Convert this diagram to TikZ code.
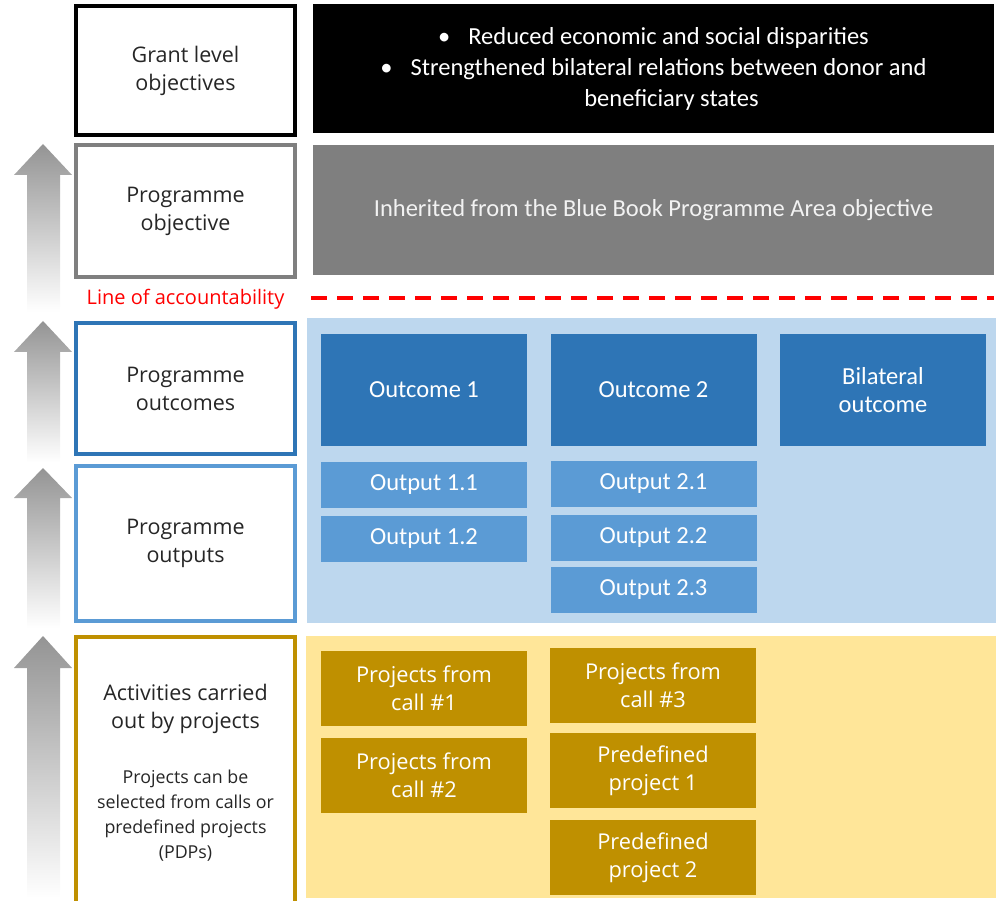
\documentclass[tikz,border=0pt]{standalone}
\usepackage{fontspec}
\setmainfont{Open Sans}
\newfontfamily\narrowfont{Carlito}
\definecolor{outcomeblue}{HTML}{2E75B6}
\definecolor{outputblue}{HTML}{5B9BD5}
\definecolor{panelblue}{HTML}{BDD7EE}
\definecolor{goldc}{HTML}{BF9000}
\definecolor{panelyellow}{HTML}{FFE699}
\definecolor{midgray}{HTML}{7F7F7F}
\definecolor{lightgraytext}{HTML}{F2F2F2}
\definecolor{labeltext}{HTML}{262626}
\begin{document}
\begin{tikzpicture}[x=1pt,y=-1pt,
  lbl/.style={draw, line width=4pt, fill=white, minimum width=219pt, inner sep=0pt, align=center, text=labeltext, font=\fontsize{21.5}{28}\selectfont},
  panel/.style={inner sep=0pt, align=center, minimum width=681pt},
  narrowtext/.style={font=\narrowfont\fontsize{24.5}{28}\selectfont},
  outcomebox/.style={fill=outcomeblue, text=white, minimum width=206pt, minimum height=112pt, inner sep=0pt, align=center, narrowtext},
  outputbox/.style={fill=outputblue, text=white, minimum width=206pt, minimum height=46pt, inner sep=0pt, align=center, narrowtext},
  projbox/.style={fill=goldc, text=white, minimum width=206pt, minimum height=75pt, inner sep=0pt, align=center, font=\fontsize{21.8}{28}\selectfont},
  uparrow/.style={top color=black!42, middle color=black!24, bottom color=white}
]
\useasboundingbox (0,0) rectangle (1002,901);
\clip (0,0) rectangle (1002,901);

% left arrows
\shade[uparrow] (43,144) -- (72,175) -- (60,175) -- (60,312) -- (27,312) -- (27,175) -- (14,175) -- cycle;
\shade[uparrow] (43,321) -- (72,352) -- (60,352) -- (60,462) -- (27,462) -- (27,352) -- (14,352) -- cycle;
\shade[uparrow] (43,468) -- (72,498) -- (60,498) -- (60,628) -- (27,628) -- (27,498) -- (14,498) -- cycle;
\shade[uparrow] (43,636) -- (72,668) -- (60,668) -- (60,898) -- (27,898) -- (27,668) -- (14,668) -- cycle;

% left label boxes
\node[lbl, draw=black, minimum height=129pt] (grant) at (185.5,70.5) {Grant level\\objectives};
\node[lbl, draw=midgray, minimum height=132pt] (progobj) at (185.5,211) {Programme\\objective};
\node[text=red, font=\fontsize{20}{22}\selectfont, inner sep=0pt] (accl) at (185.5,299) {Line of accountability};
\node[lbl, draw=outcomeblue, minimum height=131pt] (progout) at (185.5,388.5) {Programme\\outcomes};
\node[lbl, draw=outputblue, minimum height=155pt] (progoutp) at (185.5,543.5) {Programme\\outputs};
\node[lbl, draw=goldc, minimum height=300pt, anchor=north] (act) at (185.5,635) {};
\node[align=center, text=labeltext, inner sep=0pt, anchor=north, font=\fontsize{21.5}{28}\selectfont] (acttitle) at (185.5,684)
  {Activities carried\\out by projects};
\node[align=center, text=labeltext, inner sep=0pt, anchor=north, font=\fontsize{17.8}{25}\selectfont] (actnote) at (185.5,770)
  {Projects can be\\selected from calls or\\predefined projects\\(PDPs)};

% right panels
\node[panel, fill=black, text=white, minimum height=129pt, font=\narrowfont\fontsize{24.5}{31}\selectfont] (grantobj) at (653.5,68.5)
  {\textbullet\hspace{18pt}Reduced economic and social disparities\\
   \textbullet\hspace{18pt}Strengthened bilateral relations between donor and\\
   \hspace{36pt}beneficiary states};
\node[panel, fill=midgray, text=lightgraytext, minimum height=130pt, narrowtext] (inherit) at (653.5,210)
  {Inherited from the Blue Book Programme Area objective};
\coordinate (dashA) at (311,298);
\coordinate (dashB) at (994,298);
\draw[red, line width=4pt, dash pattern=on 16pt off 10pt] (dashA) -- (dashB);

\node[fill=panelblue, minimum width=689pt, minimum height=305pt, inner sep=0pt] (bluepanel) at (651.5,470.5) {};
\node[fill=panelyellow, minimum width=690pt, minimum height=262pt, inner sep=0pt] (yellowpanel) at (651,767) {};

% outcomes
\node[outcomebox] (oc1) at (424,390) {Outcome 1};
\node[outcomebox] (oc2) at (653.5,390) {Outcome 2};
\node[outcomebox] (ocb) at (883,390) {Bilateral\\outcome};

% outputs
\node[outputbox] (o11) at (424,484.5) {Output 1.1};
\node[outputbox] (o12) at (424,539) {Output 1.2};
\node[outputbox] (o21) at (653.5,483.5) {Output 2.1};
\node[outputbox] (o22) at (653.5,537.5) {Output 2.2};
\node[outputbox] (o23) at (653.5,590) {Output 2.3};

% projects
\node[projbox] (c1) at (424,688.5) {Projects from\\call \#1};
\node[projbox] (c2) at (424,775.5) {Projects from\\call \#2};
\node[projbox] (c3) at (653,685) {Projects from\\call \#3};
\node[projbox] (p1) at (653,770.5) {Predefined\\project 1};
\node[projbox] (p2) at (653,857.5) {Predefined\\project 2};
\end{tikzpicture}
\end{document}
